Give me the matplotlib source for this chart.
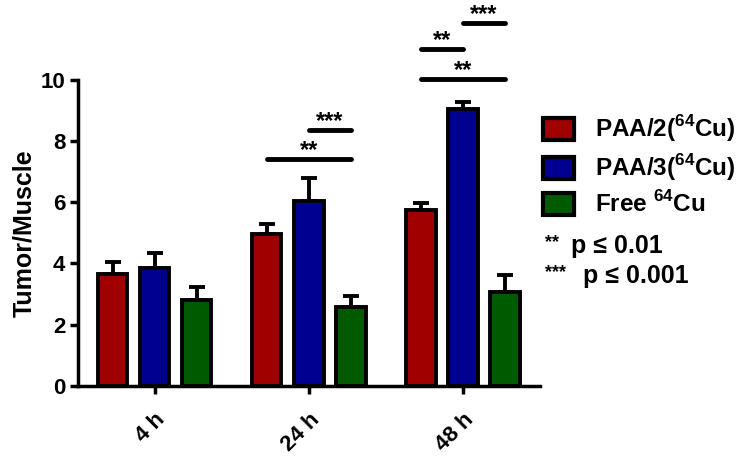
import numpy as np
import matplotlib
matplotlib.use("Agg")
from matplotlib import pyplot as plt

plt.rcParams['font.family'] = ['Liberation Sans', 'DejaVu Sans']
plt.rcParams['font.weight'] = 'bold'
plt.rcParams['mathtext.fontset'] = 'custom'
plt.rcParams['mathtext.rm'] = 'Liberation Sans:bold'
plt.rcParams['mathtext.bf'] = 'Liberation Sans:bold'

times = ['4 h', '24 h', '48 h']
series = ['PAA/2($^{64}$Cu)', 'PAA/3($^{64}$Cu)', 'Free $^{64}$Cu']
colors = ['#a00000', '#000090', '#005a00']
paa2 = [3.65, 4.95, 5.75]
paa2_err = [0.4, 0.35, 0.22]
paa3 = [3.85, 6.05, 9.05]
paa3_err = [0.5, 0.75, 0.22]
free = [2.82, 2.58, 3.05]
free_err = [0.4, 0.35, 0.58]

# significance brackets: (group, bar from, bar to, height, label)
sig = [(1, 0, 2, 7.4, '**'), (1, 1, 2, 8.35, '***'),
       (2, 0, 1, 11.0, '**'), (2, 1, 2, 11.85, '***'), (2, 0, 2, 10.02, '**')]

fig = plt.figure(figsize=(7.47, 4.62), dpi=100)
ax = fig.add_axes([0.104, 0.165, 0.619, 0.662])

x = np.arange(len(times))
off = 0.273
w = 0.19
vals = [paa2, paa3, free]
errs = [paa2_err, paa3_err, free_err]
for i in range(3):
	ax.bar(x + (i - 1) * off, vals[i], w, color=colors[i], edgecolor='black',
		linewidth=2.8, label=series[i], zorder=2)
	ax.errorbar(x + (i - 1) * off, vals[i], yerr=[np.zeros(3), errs[i]], fmt='none',
		ecolor='black', elinewidth=2.8, capsize=5.5, capthick=2.8, zorder=1)

for g, a, b, h, lab in sig:
	x0 = g + (a - 1) * off
	x1 = g + (b - 1) * off
	ax.plot([x0, x1], [h, h], color='black', lw=3.5, solid_capstyle='round', clip_on=False)
	ax.text((x0 + x1) / 2, h - 0.08, lab, ha='center', va='bottom', fontsize=17,
		fontweight='bold', clip_on=False)

ax.set_xlim(-0.5, 2.5)
ax.set_ylim(0, 10)
ax.set_yticks([0, 2, 4, 6, 8, 10])
ax.set_xticks(x)
ax.set_xticklabels(times, rotation=45, fontsize=16, fontweight='bold',
	ha='right', rotation_mode='anchor')
ax.tick_params(axis='y', labelsize=16, width=2.5, length=6, pad=3)
ax.tick_params(axis='x', width=2.5, length=6, pad=11)
for lbl in ax.get_yticklabels():
	lbl.set_fontweight('bold')
ax.spines['top'].set_visible(False)
ax.spines['right'].set_visible(False)
ax.spines['left'].set_linewidth(2.5)
ax.spines['bottom'].set_linewidth(2.5)
ax.set_ylabel('Tumor/Muscle', fontsize=18, fontweight='bold', labelpad=3)

leg = ax.legend(loc='upper left', bbox_to_anchor=(1.006, 0.89), frameon=False,
	fontsize=17.5, handlelength=1.3, handleheight=1.05, handletextpad=0.85,
	labelspacing=0.33, borderaxespad=0.0, borderpad=0.0)
for p in leg.get_patches():
	p.set_linewidth(3)
fig.text(0.730, 0.474, '**', fontsize=13, fontweight='bold', va='center')
fig.text(0.764, 0.468, 'p ≤ 0.01', fontsize=18, fontweight='bold', va='center')
fig.text(0.730, 0.409, '***', fontsize=13, fontweight='bold', va='center')
fig.text(0.781, 0.403, 'p ≤ 0.001', fontsize=18, fontweight='bold', va='center')

plt.savefig('out.png', dpi=100)
